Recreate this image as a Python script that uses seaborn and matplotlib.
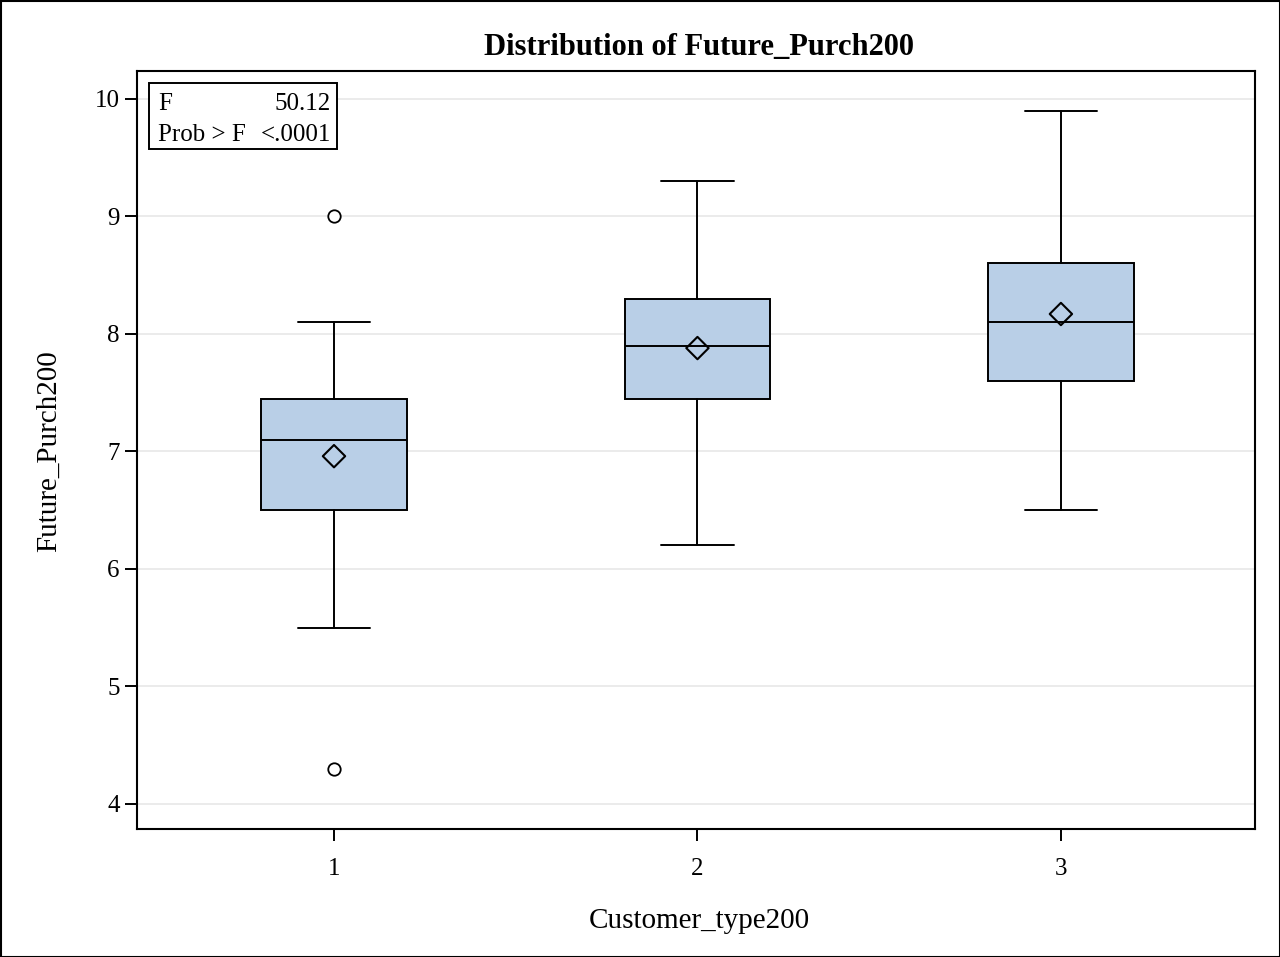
import matplotlib
matplotlib.use("Agg")
import matplotlib.pyplot as plt
import seaborn as sns
import pandas as pd
from matplotlib.patches import Rectangle

categories = ["1", "2", "3"]
whis_lo = [5.5, 6.2, 6.5]
q1 = [6.5, 7.45, 7.6]
median = [7.1, 7.9, 8.1]
q3 = [7.45, 8.3, 8.6]
whis_hi = [8.1, 9.3, 9.9]
means = [6.96, 7.88, 8.17]
outlier_cat = ["1", "1"]
outlier_val = [4.3, 9.0]
yticks = [4, 5, 6, 7, 8, 9, 10]
stat_names = ["F", "Prob > F"]
stat_values = ["50.12", "<.0001"]

sns.set_theme(style="white")
plt.rcParams['font.family'] = ['Liberation Serif', 'DejaVu Serif']

fig = plt.figure(figsize=(12.8, 9.57), dpi=100)
ax = fig.add_axes([137/1280, 1-829/957, (1255-137)/1280, (829-71)/957])

pos = {c: i for i, c in enumerate(categories)}
stats = []
for i, c in enumerate(categories):
    stats.append(dict(label=c, whislo=whis_lo[i], q1=q1[i], med=median[i],
                      q3=q3[i], whishi=whis_hi[i], fliers=[]))
lw = 1.4
ax.bxp(stats, positions=list(range(len(categories))), widths=0.4, patch_artist=True,
       showfliers=False, showmeans=False,
       boxprops=dict(facecolor="#B9CFE7", edgecolor="black", linewidth=lw),
       medianprops=dict(color="black", linewidth=lw),
       whiskerprops=dict(color="black", linewidth=lw),
       capprops=dict(color="black", linewidth=lw),
       capwidths=0.2, zorder=3)

mdf = pd.DataFrame({"x": [pos[c] for c in categories], "y": means})
sns.scatterplot(data=mdf, x="x", y="y", marker="D", s=130, facecolor="none",
                edgecolor="black", linewidth=1.5, ax=ax, zorder=4)
odf = pd.DataFrame({"x": [pos[c] for c in outlier_cat], "y": outlier_val})
sns.scatterplot(data=odf, x="x", y="y", marker="o", s=80, facecolor="white",
                edgecolor="black", linewidth=1.3, ax=ax, zorder=4)

ax.set_xlim(-0.542, 2.534)
ax.set_ylim(3.787, 10.238)
ax.set_yticks(yticks)
ax.set_yticklabels([str(t) for t in yticks])
ax.set_xticks(range(len(categories)))
ax.set_xticklabels(categories)
for t in yticks:
    ax.axhline(t, color="#E8E8E8", linewidth=1.2, zorder=0)
ax.tick_params(axis="both", labelsize=18, length=8.5, width=1.4, color="black",
               direction="out", bottom=True, left=True, labelcolor="black")
ax.tick_params(axis="x", pad=12.5)
ax.tick_params(axis="y", pad=4)
for s in ax.spines.values():
    s.set_color("black")
    s.set_linewidth(1.5)
ax.set_xlabel("Customer_type200", fontsize=21, color="black")
ax.xaxis.label.set_va("baseline")
ax.xaxis.set_label_coords((699-137)/1118, (829-928)/758)
ax.set_ylabel("Future_Purch200", fontsize=21, color="black")
ax.yaxis.label.set_va("center")
ax.yaxis.set_label_coords((49-137)/1118, (829-451)/758)
fig.text(699/1280, 1-55/957, "Distribution of Future_Purch200", ha="center", va="baseline",
         fontsize=22, fontweight="bold", color="black")

# inset statistics table
ax.add_patch(Rectangle(((149-137)/1118, (829-149)/758), (337-149)/1118, (149-83)/758,
                       transform=ax.transAxes, facecolor="white", edgecolor="black",
                       linewidth=1.4, zorder=5))
for k, (nm, vl) in enumerate(zip(stat_names, stat_values)):
    yb = [110, 141][k]
    ax.text((158-137)/1118, (829-yb)/758, nm, transform=ax.transAxes, ha="left",
            va="baseline", fontsize=18, color="black", zorder=6)
    ax.text((331-137)/1118, (829-yb)/758, vl, transform=ax.transAxes, ha="right",
            va="baseline", fontsize=18, color="black", zorder=6)

fig.patches.append(Rectangle((0.5/1280, 0.5/957), 1-1/1280, 1-1/957, transform=fig.transFigure,
                             fill=False, edgecolor="black", linewidth=1.5))
fig.savefig("out.png", dpi=100, facecolor="white")
